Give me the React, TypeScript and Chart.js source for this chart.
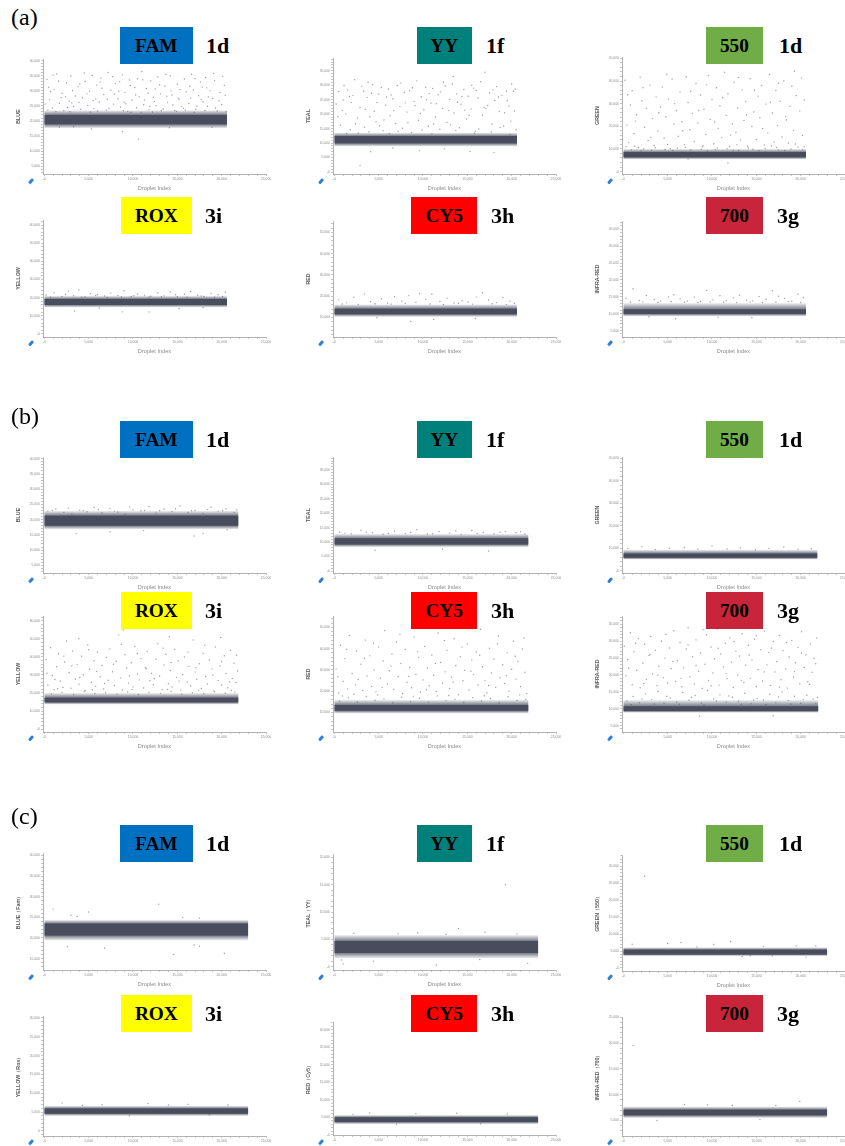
import React, { useEffect, useRef } from "react";
import { Chart, registerables } from "chart.js";

Chart.register(...registerables);

// ================= TEXT =================
const sectionLabels = ["(a)", "(b)", "(c)"];
const dyeNames = ["FAM", "YY", "550", "ROX", "CY5", "700"];
const sampleCodes = ["1d", "1f", "1d", "3i", "3h", "3g"];
const yTitlesAB = ["BLUE", "TEAL", "GREEN", "YELLOW", "RED", "INFRA-RED"];
const yTitlesC = ["BLUE（Fam）", "TEAL（YY）", "GREEN（550）", "YELLOW（Rox）", "RED（Cy5）", "INFRA-RED（700）"];
const xTitle = "Droplet Index";

// ================= AXES =================
const xMin = -150;
const xMax = 25000;
const xMajor = 5000;
const xMinor = 1000;

const yMinA = [2450, -690, -1070, -1660, 870, 3100];
const yMaxA = [40550, 39400, 50600, 62760, 55300, 37470];
const yMinB = [2450, -690, -1070, -1660, 870, 3100];
const yMaxB = [40600, 39400, 50600, 62760, 55300, 37470];
const yMinC = [12250, -620, -885, -1330, -100, 2010];
const yMaxC = [40580, 20620, 33250, 30530, 32200, 25030];
const yMajorA = [5000, 5000, 10000, 10000, 10000, 5000];
const yMajorB = [5000, 5000, 10000, 10000, 10000, 5000];
const yMajorC = [5000, 5000, 5000, 5000, 5000, 5000];

// ================= DATA (thousands) =================
const endA = [20.6, 20.6, 20.6, 20.6, 20.6, 20.6];
const endB = [21.9, 21.9, 21.9, 21.9, 21.9, 22.0];
const endC = [23.0, 23.0, 23.0, 23.0, 23.0, 23.0];

// dense negative-droplet band [low, high] and its looser halo [low, high]
const coreA = [[18.9, 22.0], [9.9, 12.4], [6.3, 8.6], [16.0, 19.3], [11.5, 14.1], [9.9, 11.3]];
const haloA = [[17.6, 23.6], [8.8, 13.6], [5.4, 10.0], [14.6, 21.0], [10.3, 16.2], [9.2, 13.2]];
const coreB = [[18.0, 21.3], [9.2, 11.3], [5.7, 7.6], [14.8, 17.4], [10.8, 13.5], [9.3, 10.7]];
const haloB = [[16.8, 22.9], [8.2, 12.8], [4.9, 9.3], [13.6, 20.0], [9.6, 16.0], [8.8, 12.6]];
const coreC = [[20.6, 23.5], [2.5, 4.7], [4.0, 5.4], [4.6, 6.0], [3.6, 5.0], [6.0, 7.1]];
const haloC = [[19.4, 24.4], [1.5, 5.8], [3.5, 6.1], [4.0, 6.7], [3.0, 5.6], [5.5, 7.7]];

// individual droplets outside the band [index, amplitude]
const aFamPts = [
  [0.3,33.8],[0.6,27.1],[0.9,24.3],[1.1,30.5],[1.4,35.6],[1.7,25.9],[2.0,29.2],[2.2,23.4],[2.5,32.7],[2.8,26.6],
  [3.0,34.9],[3.3,24.8],[3.5,28.3],[3.8,31.4],[4.1,23.9],[4.3,27.7],[4.6,33.1],[4.9,25.2],[5.1,29.9],[5.4,35.1],
  [5.6,24.1],[5.9,31.9],[6.2,26.3],[6.4,34.2],[6.7,28.8],[7.0,23.6],[7.2,36.1],[7.5,30.2],[7.8,25.6],[8.0,32.4],
  [8.3,27.4],[8.6,24.6],[8.8,35.3],[9.1,29.5],[9.4,23.2],[9.6,33.6],[9.9,26.9],[10.2,31.1],[10.4,24.4],[10.7,28.1],
  [11.0,36.4],[11.2,25.4],[11.5,30.8],[11.8,23.7],[12.0,33.3],[12.3,27.9],[12.6,25.1],[12.8,34.6],[13.1,29.0],[13.4,24.0],
  [13.6,31.6],[13.9,26.1],[14.2,35.0],[14.4,28.6],[14.7,23.5],[15.0,32.2],[15.2,27.2],[15.5,24.7],[15.8,33.9],[16.0,29.7],
  [16.3,25.8],[16.6,35.5],[16.8,30.3],[17.1,23.8],[17.4,28.4],[17.6,32.9],[17.9,26.4],[18.2,34.4],[18.4,24.9],[18.7,30.0],
  [19.0,27.5],[19.2,33.4],[19.5,23.3],[19.8,29.4],[20.0,25.5],[20.3,31.8],
  [0.1,25.6],[0.5,31.2],[1.3,23.1],[1.9,27.8],[2.6,24.5],[3.2,30.1],[3.9,26.2],[4.5,35.9],[5.2,23.0],[5.8,27.3],
  [6.5,30.9],[7.3,24.2],[7.9,28.9],[8.5,33.0],[9.2,25.7],[9.8,22.9],[10.5,34.0],[11.3,27.0],[11.9,24.8],[12.5,30.6],
  [13.2,23.4],[13.8,28.2],[14.5,25.3],[15.3,30.4],[15.9,23.6],[16.5,27.6],[17.2,25.0],[17.8,31.3],[18.5,28.0],[19.3,24.3],[20.1,34.8],
  [0.7,29.8],[1.6,33.2],[2.4,28.0],[3.1,26.0],[4.0,32.3],[4.8,29.0],[5.5,26.8],[6.3,32.9],[7.1,27.2],[7.7,34.7],
  [8.4,29.9],[9.0,26.3],[9.7,31.8],[10.3,28.6],[11.1,33.7],[11.7,29.2],[12.4,26.5],[13.0,32.0],[13.7,35.4],[14.3,30.0],
  [15.1,27.6],[15.7,24.2],[16.4,31.5],[17.0,34.0],[17.7,27.1],[18.3,31.0],[19.1,35.8],[19.7,26.7],[20.4,28.5],[0.4,23.7],
  [2.9,23.1],[6.0,23.3],[8.9,23.5],[12.2,23.0],[14.9,23.2],[18.1,23.4],[20.5,23.1],[1.0,35.2],[10.9,22.8],[16.9,22.9],
  [10.6,14.0],[5.3,17.4],[8.8,16.5],[1.7,18.0],[14.1,17.8],[3.3,18.1],[18.9,17.9],
];
const aYyPts = [
  [0.2,23.5],[0.5,27.8],[0.7,16.2],[1.0,24.9],[1.3,20.1],[1.5,28.3],[1.8,14.6],[2.1,26.4],[2.3,31.9],[2.6,18.7],
  [2.9,22.3],[3.1,29.6],[3.4,15.5],[3.7,25.8],[3.9,13.9],[4.2,27.2],[4.5,21.0],[4.7,17.4],[5.0,26.9],[5.3,29.2],
  [5.5,14.3],[5.8,23.1],[6.1,28.7],[6.3,19.4],[6.6,25.3],[6.9,16.8],[7.1,29.9],[7.4,22.6],[7.7,15.1],[7.9,27.5],
  [8.2,20.7],[8.5,28.1],[8.7,13.6],[9.0,24.4],[9.3,31.5],[9.5,17.9],[9.8,26.0],[10.1,21.5],[10.3,29.3],[10.6,15.8],
  [10.9,23.8],[11.1,28.9],[11.4,19.0],[11.7,26.7],[11.9,14.8],[12.2,22.0],[12.5,29.7],[12.7,17.1],[13.0,25.1],[13.3,30.4],
  [13.5,20.4],[13.8,27.0],[14.1,15.3],[14.3,23.4],[14.6,28.5],[14.9,18.3],[15.1,26.2],[15.4,21.8],[15.7,29.0],[15.9,14.1],
  [16.2,25.6],[16.5,31.2],[16.7,19.7],[17.0,34.5],[17.3,23.0],[17.5,27.3],[17.8,16.5],[18.1,24.7],[18.3,29.5],[18.6,20.9],
  [18.9,26.5],[19.1,15.9],[19.4,28.0],[19.7,22.8],[19.9,17.6],[20.2,27.9],[20.4,28.6],
  [0.4,19.2],[1.1,29.9],[1.9,24.0],[2.7,13.4],[3.5,21.7],[4.3,30.2],[5.1,16.0],[5.9,25.9],[6.7,21.2],[7.5,30.8],
  [8.3,17.0],[9.1,22.9],[9.9,14.5],[10.7,27.1],[11.5,23.6],[12.3,31.0],[13.1,16.3],[13.9,24.1],[14.7,21.4],[15.5,30.0],
  [16.3,14.9],[17.1,21.9],[17.9,28.4],[18.7,15.4],[19.5,24.6],[20.3,21.1],
  [0.9,21.3],[1.7,26.1],[2.4,16.7],[3.3,27.9],[4.0,19.1],[4.8,24.0],[5.6,18.0],[6.4,26.6],[7.2,14.0],[8.0,23.9],
  [8.8,29.1],[9.7,20.2],[10.4,25.0],[11.2,16.6],[12.0,27.7],[12.9,21.2],[13.7,14.4],[14.4,26.0],[15.2,19.6],[16.0,28.2],
  [16.9,22.4],[17.7,13.8],[18.5,25.9],[19.2,20.5],[20.0,30.4],[20.5,14.6],[1.4,13.2],[6.2,13.3],[11.0,13.1],[15.8,13.4],
  [19.8,13.0],[3.8,31.0],[13.4,33.0],
  [2.9,2.3],[4.1,7.0],[15.3,7.1],[18.0,6.7],[9.6,7.4],[12.4,8.0],[6.6,8.3],
];
const a550Pts = [
  [0.2,40.3],[0.4,20.5],[0.6,12.9],[0.8,29.4],[1.0,35.7],[1.2,16.8],[1.5,25.1],[1.7,10.6],[1.9,41.7],[2.1,31.3],
  [2.4,19.6],[2.6,27.9],[2.8,13.7],[3.0,38.2],[3.3,23.4],[3.5,11.5],[3.7,33.0],[3.9,17.9],[4.2,28.5],[4.4,37.4],
  [4.6,14.8],[4.8,24.2],[5.1,32.0],[5.3,10.2],[5.5,40.9],[5.7,20.9],[6.0,27.0],[6.2,15.6],[6.4,35.1],[6.6,22.0],
  [6.9,11.9],[7.1,41.9],[7.3,30.5],[7.5,18.5],[7.8,25.6],[8.0,13.2],[8.2,38.9],[8.4,21.5],[8.7,33.8],[8.9,10.9],
  [9.1,27.5],[9.3,16.4],[9.6,42.5],[9.8,23.0],[10.0,31.8],[10.2,12.3],[10.5,37.0],[10.7,19.1],[10.9,29.1],[11.1,15.0],
  [11.4,43.9],[11.6,24.8],[11.8,34.4],[12.0,11.1],[12.3,21.1],[12.5,39.5],[12.7,17.3],[12.9,28.2],[13.2,13.9],[13.4,36.1],
  [13.6,22.6],[13.8,30.9],[14.1,10.4],[14.3,41.0],[14.5,19.9],[14.7,26.3],[15.0,14.2],[15.2,33.3],[15.4,23.8],[15.6,38.0],
  [15.9,11.7],[16.1,29.8],[16.3,17.0],[16.5,42.9],[16.8,25.9],[17.0,13.0],[17.2,35.8],[17.4,20.3],[17.7,31.1],[17.9,15.3],
  [18.1,40.0],[18.3,24.4],[18.6,12.6],[18.8,28.8],[19.0,37.7],[19.2,18.2],[19.5,33.6],[19.7,10.8],[19.9,26.7],[20.1,41.4],[20.4,31.6],
  [0.9,9.6],[2.3,10.0],[3.2,9.4],[4.7,9.8],[6.1,10.3],[7.6,9.5],[8.8,9.9],[10.4,9.7],[11.7,10.1],[13.0,9.3],
  [14.6,9.9],[16.0,10.2],[17.5,9.6],[18.9,10.0],[20.2,9.7],
  [1.3,11.2],[5.0,12.0],[9.0,11.4],[12.8,11.8],[16.7,11.3],[19.4,12.2],
  [0.5,33.9],[1.4,22.3],[2.2,37.0],[3.1,15.2],[4.0,26.0],[4.9,43.0],[5.8,30.0],[6.7,18.0],[7.6,35.5],[8.5,27.0],
  [9.4,38.3],[10.3,21.9],[11.2,32.6],[12.1,16.1],[13.0,41.6],[13.9,25.1],[14.8,35.9],[15.7,19.0],[16.6,30.6],[17.5,39.0],
  [18.4,22.8],[19.3,44.3],[20.2,15.9],[0.3,11.0],[3.6,10.5],[7.0,10.7],[10.6,10.4],[14.0,11.2],[17.3,10.6],[20.4,11.0],
  [2.0,9.2],[5.6,9.3],[9.5,9.1],[12.4,9.4],[15.3,9.2],[18.2,9.3],
  [11.8,3.8],[7.3,5.6],
];
const aRoxPts = [
  [0.2,21.5],[1.1,22.8],[2.0,20.7],[2.7,23.6],[3.3,21.1],[3.9,24.2],[4.6,20.4],[5.2,22.2],[6.0,21.7],[6.8,20.9],
  [7.5,22.5],[8.3,21.2],[9.0,23.8],[9.8,20.6],[10.5,22.0],[11.3,21.4],[12.0,20.8],[12.8,22.7],[13.5,21.0],[14.2,23.1],
  [15.0,20.5],[15.8,21.9],[16.5,23.4],[17.3,21.3],[18.0,20.6],[18.8,22.4],[19.6,21.6],[20.4,23.0],
  [0.7,20.2],[2.4,21.9],[4.2,20.3],[5.8,21.2],[7.1,20.1],[8.7,20.4],[10.1,21.1],[11.8,20.3],[13.2,20.5],[14.8,21.6],
  [16.1,20.2],[17.7,20.9],[19.2,20.3],[20.1,20.7],
  [3.4,12.6],[8.8,12.2],[11.8,12.1],[6.2,14.3],[15.2,14.0],[17.9,14.6],
];
const aCy5Pts = [
  [0.5,18.3],[1.4,16.9],[2.2,19.5],[3.4,21.0],[4.1,17.4],[5.3,18.8],[6.0,16.7],[6.8,19.9],[7.6,17.8],[8.4,20.3],
  [9.2,17.1],[9.6,21.2],[10.3,18.6],[11.0,20.9],[11.9,17.5],[12.7,19.1],[13.5,16.8],[14.4,18.0],[15.1,17.3],[16.0,19.6],
  [16.7,21.6],[17.4,18.2],[18.3,17.0],[19.0,19.3],[19.8,17.7],[20.3,16.6],
  [0.9,16.4],[2.7,16.2],[4.6,16.5],[6.4,16.3],[8.0,16.6],[10.8,16.4],[12.3,16.1],[14.0,16.7],[15.6,16.3],[17.8,16.5],[19.4,16.2],
  [8.6,8.2],[11.2,9.1],[4.8,9.9],[15.9,9.6],
];
const a700Pts = [
  [0.3,14.6],[1.1,17.4],[1.8,13.9],[2.6,15.4],[3.5,14.2],[4.2,13.8],[5.1,15.0],[5.7,15.6],[6.4,14.4],[7.2,13.7],
  [8.0,14.9],[8.7,13.6],[9.4,16.9],[10.1,14.1],[10.9,15.3],[11.6,13.9],[12.4,14.7],[13.1,15.5],[13.9,14.0],[14.6,13.8],
  [15.3,15.1],[16.1,14.3],[16.8,16.8],[17.5,15.2],[18.2,14.5],[19.0,13.7],[19.7,15.8],[20.3,14.8],
  [0.8,13.4],[2.2,13.5],[3.9,13.3],[5.4,13.6],[6.9,13.4],[8.4,13.3],[9.8,13.5],[11.3,13.4],[12.8,13.3],[14.3,13.5],
  [15.7,13.3],[17.2,13.4],[18.6,13.6],[20.0,13.3],
  [5.9,8.5],[10.7,9.0],[14.5,8.8],[2.9,9.1],
];

const bFamPts = [
  [0.4,22.8],[1.3,23.5],[2.2,22.4],[3.1,21.9],[4.0,23.1],[4.8,22.6],[5.6,24.0],[6.5,22.2],[7.4,23.7],[8.3,22.5],
  [9.1,21.8],[10.0,23.2],[10.9,22.9],[11.8,24.3],[12.6,22.1],[13.5,23.4],[14.4,22.7],[15.3,24.5],[16.2,22.3],[17.0,23.0],
  [17.9,22.0],[18.8,24.1],[19.6,22.8],[20.5,23.6],[21.4,22.4],
  [0.9,23.0],[2.7,23.8],[4.4,22.9],[6.1,23.3],[7.9,22.8],[9.6,24.2],[11.3,23.0],[13.0,22.9],[14.8,23.6],[16.6,22.9],
  [18.4,23.3],[20.1,22.9],[21.7,23.2],
  [3.6,15.4],[7.4,16.0],[16.9,14.6],[17.9,15.5],[11.2,16.4],[20.6,16.7],
];
const bYyPts = [
  [0.6,13.4],[1.9,12.9],[3.0,14.1],[4.3,13.2],[5.5,12.7],[6.8,13.8],[8.0,13.0],[9.3,14.3],[10.5,12.8],[11.8,13.6],
  [13.0,13.1],[14.3,12.6],[15.5,14.0],[16.8,13.3],[18.0,12.9],[19.3,13.7],[20.5,13.2],[21.5,12.8],
  [1.2,13.1],[3.6,13.5],[6.1,13.0],[8.6,13.3],[11.1,12.9],[13.7,13.8],[16.1,13.0],[18.7,13.4],[21.0,13.6],
  [4.6,7.2],[12.2,7.5],[17.4,6.9],
];
const b550Pts = [
  [0.5,9.8],[2.1,10.7],[3.6,9.4],[5.2,9.9],[6.9,10.3],[8.4,9.5],[10.0,11.0],[11.7,9.6],[13.2,10.1],[14.9,9.3],
  [16.4,9.9],[18.1,10.5],[19.7,9.5],[21.2,9.7],
];
const bRoxPts = [
  [0.2,38.5],[0.4,24.3],[0.7,45.1],[0.9,29.7],[1.1,21.9],[1.4,34.6],[1.6,41.8],[1.8,26.5],[2.1,23.1],[2.3,37.2],
  [2.5,48.9],[2.8,31.4],[3.0,22.6],[3.2,43.3],[3.5,27.8],[3.7,35.9],[3.9,24.9],[4.2,40.4],[4.4,30.1],[4.6,21.4],
  [4.9,46.7],[5.1,33.2],[5.3,26.0],[5.6,38.0],[5.8,23.7],[6.0,42.6],[6.3,29.0],[6.5,35.3],[6.7,22.2],[7.0,39.8],
  [7.2,27.1],[7.4,44.5],[7.7,31.8],[7.9,24.1],[8.1,37.6],[8.4,52.3],[8.6,28.4],[8.8,21.7],[9.1,41.2],[9.3,33.9],
  [9.5,25.5],[9.8,36.8],[10.0,23.4],[10.2,45.8],[10.5,30.6],[10.7,27.3],[10.9,39.1],[11.2,22.8],[11.4,34.0],[11.6,43.0],
  [11.9,26.8],[12.1,31.0],[12.3,24.6],[12.6,38.7],[12.8,47.4],[13.0,29.4],[13.3,22.0],[13.5,35.6],[13.7,41.5],[14.0,25.2],
  [14.2,32.5],[14.4,23.3],[14.7,44.2],[14.9,28.7],[15.1,37.9],[15.4,21.6],[15.6,30.3],[15.8,40.0],[16.1,26.2],[16.3,34.8],
  [16.5,23.9],[16.8,49.5],[17.0,31.6],[17.2,27.6],[17.5,36.3],[17.7,22.5],[17.9,42.1],[18.2,29.2],[18.4,25.0],[18.6,38.3],
  [18.9,33.4],[19.1,21.2],[19.3,45.6],[19.6,27.0],[19.8,35.0],[20.0,24.4],[20.3,40.7],[20.5,30.8],[20.7,22.9],[21.0,43.7],
  [21.2,28.1],[21.4,36.5],[21.6,25.8],[21.8,32.2],
  [0.3,31.0],[1.2,27.5],[2.2,40.5],[3.1,35.0],[4.0,28.6],[5.0,44.0],[5.9,32.0],[6.8,25.3],[7.8,36.0],[8.7,47.0],
  [9.6,29.6],[10.5,41.9],[11.5,33.5],[12.4,27.9],[13.4,44.9],[14.3,36.9],[15.2,26.6],[16.2,42.7],[17.1,34.1],[18.1,46.5],
  [19.0,30.0],[20.0,37.4],[20.9,26.3],[21.7,41.0],[1.5,22.4],[5.4,21.8],[9.9,22.0],[13.9,21.9],[17.4,21.6],[21.1,21.5],
  [0.8,19.5],[2.0,20.3],[3.3,19.1],[4.5,20.8],[5.7,19.7],[6.9,20.1],[8.2,19.4],[9.4,20.6],[10.6,19.2],[11.8,20.4],
  [13.1,19.8],[14.3,20.9],[15.5,19.3],[16.7,20.2],[18.0,19.6],[19.2,20.7],[20.4,19.9],[21.5,20.5],
  [8.9,55.0],[14.1,51.2],[3.9,50.1],[19.9,50.8],
];
const bCy5Pts = [
  [0.2,30.5],[0.5,19.2],[0.7,41.6],[1.0,24.7],[1.2,35.3],[1.5,21.1],[1.7,46.2],[2.0,28.3],[2.2,18.6],[2.5,38.9],
  [2.7,25.6],[3.0,32.7],[3.2,20.4],[3.5,44.0],[3.7,27.2],[4.0,36.6],[4.2,22.3],[4.5,30.0],[4.7,19.7],[5.0,40.8],
  [5.2,26.1],[5.5,34.2],[5.7,48.5],[6.0,23.4],[6.2,29.6],[6.5,37.5],[6.7,20.8],[7.0,43.1],[7.2,26.9],[7.5,33.0],
  [7.7,18.9],[8.0,39.6],[8.2,24.2],[8.5,31.1],[8.7,21.6],[9.0,45.4],[9.2,28.0],[9.5,35.9],[9.7,19.5],[10.0,25.3],
  [10.2,41.0],[10.5,30.9],[10.7,22.6],[11.0,37.0],[11.2,27.5],[11.5,19.9],[11.7,47.3],[12.0,33.5],[12.2,23.9],[12.5,29.1],
  [12.7,39.2],[13.0,21.3],[13.2,26.6],[13.5,44.6],[13.7,32.1],[14.0,18.4],[14.2,36.2],[14.5,24.9],[14.7,29.8],[15.0,42.2],
  [15.2,20.6],[15.5,34.7],[15.7,27.8],[16.0,38.4],[16.2,22.9],[16.5,49.1],[16.7,31.5],[17.0,25.1],[17.2,19.3],[17.5,40.2],
  [17.7,28.6],[18.0,35.1],[18.2,21.9],[18.5,45.9],[18.7,26.3],[19.0,32.4],[19.2,23.6],[19.5,38.0],[19.7,20.0],[20.0,30.3],
  [20.2,43.5],[20.5,25.7],[20.7,34.0],[21.0,22.1],[21.2,39.8],[21.5,28.9],[21.7,19.0],
  [0.4,26.8],[1.4,39.7],[2.4,23.0],[3.4,35.5],[4.4,42.6],[5.4,21.7],[6.4,31.8],[7.4,46.7],[8.4,27.0],[9.4,38.6],
  [10.4,20.7],[11.4,33.0],[12.4,43.8],[13.4,24.3],[14.4,40.7],[15.4,29.4],[16.4,36.9],[17.4,22.7],[18.4,42.3],[19.4,27.3],
  [20.4,36.4],[21.4,45.0],[0.9,17.8],[4.9,18.2],[8.9,17.6],[12.9,18.0],[16.9,17.9],[20.9,18.3],
  [0.6,15.3],[1.6,16.9],[2.6,14.8],[3.6,17.5],[4.6,15.8],[5.6,16.4],[6.6,14.6],[7.6,17.2],[8.6,15.1],[9.6,16.7],
  [10.6,14.9],[11.6,17.8],[12.6,15.6],[13.6,16.2],[14.6,14.7],[15.6,17.0],[16.6,15.4],[17.6,16.6],[18.6,14.5],[19.6,17.4],
  [20.6,15.7],[21.6,16.1],
];
const b700Pts = [
  [0.1,28.5],[0.3,19.8],[0.5,24.6],[0.8,32.5],[1.0,17.1],[1.2,26.9],[1.5,21.4],[1.7,30.8],[1.9,16.2],[2.2,23.5],
  [2.4,29.1],[2.6,18.7],[2.9,25.8],[3.1,31.4],[3.3,20.3],[3.6,27.3],[3.8,16.8],[4.0,22.6],[4.3,30.0],[4.5,19.2],
  [4.7,25.0],[5.0,17.6],[5.2,28.0],[5.4,21.9],[5.7,33.1],[5.9,18.1],[6.1,24.2],[6.4,29.6],[6.6,16.5],[6.8,22.1],
  [7.1,27.7],[7.3,34.0],[7.5,19.5],[7.8,25.4],[8.0,17.3],[8.2,30.4],[8.5,21.1],[8.7,26.5],[8.9,16.0],[9.2,23.2],
  [9.4,31.9],[9.6,18.4],[9.9,28.3],[10.1,20.6],[10.3,24.8],[10.6,33.6],[10.8,17.0],[11.0,26.2],[11.3,22.4],[11.5,29.4],
  [11.7,18.9],[12.0,31.0],[12.2,23.8],[12.4,16.3],[12.7,27.0],[12.9,20.0],[13.1,25.6],[13.4,32.2],[13.6,17.8],[13.8,22.9],
  [14.1,28.8],[14.3,19.0],[14.5,24.4],[14.8,30.6],[15.0,16.6],[15.2,21.6],[15.5,27.5],[15.7,18.2],[15.9,33.0],[16.2,23.0],
  [16.4,26.7],[16.6,16.9],[16.9,29.9],[17.1,20.9],[17.3,24.0],[17.6,31.7],[17.8,18.6],[18.0,27.2],[18.3,21.8],[18.5,16.1],
  [18.7,25.3],[19.0,30.2],[19.2,19.4],[19.4,23.6],[19.7,28.1],[19.9,17.4],[20.1,32.8],[20.4,22.2],[20.6,26.0],[20.8,18.0],
  [21.1,29.2],[21.3,20.8],[21.5,24.9],[21.8,30.9],
  [0.6,22.0],[1.4,29.4],[2.3,17.5],[3.0,26.1],[3.9,20.0],[4.8,32.0],[5.6,24.0],[6.5,19.0],[7.3,28.9],[8.2,22.8],
  [9.0,33.4],[9.9,16.8],[10.7,27.9],[11.6,20.4],[12.5,29.9],[13.3,18.4],[14.2,25.9],[15.0,31.6],[15.9,20.9],[16.7,28.0],
  [17.6,16.4],[18.4,29.6],[19.3,21.0],[20.1,26.5],[21.0,17.2],[21.7,23.3],
  [0.4,12.3],[1.1,13.6],[1.8,11.8],[2.5,14.4],[3.2,12.7],[3.9,15.1],[4.6,11.6],[5.3,13.2],[6.0,12.0],[6.7,14.8],
  [7.4,12.5],[8.1,13.9],[8.8,11.7],[9.5,15.4],[10.2,12.9],[10.9,14.1],[11.6,11.9],[12.3,13.4],[13.0,12.2],[13.7,14.6],
  [14.4,11.5],[15.1,13.0],[15.8,12.6],[16.5,14.3],[17.2,11.8],[17.9,15.0],[18.6,12.4],[19.3,13.7],[20.0,11.6],[20.7,14.0],
  [21.4,12.8],[21.9,13.3],
  [0.9,11.2],[2.1,12.9],[3.5,11.4],[4.9,13.7],[6.3,11.3],[7.7,13.4],[9.1,11.1],[10.5,12.2],[11.9,13.8],[13.3,11.3],
  [14.7,12.6],[16.1,11.2],[17.5,13.5],[18.9,11.4],[20.3,12.7],[21.7,11.5],
  [8.6,7.8],[16.9,7.9],
];

const cFamPts = [
  [1.0,27.0],[12.9,28.2],[5.0,26.3],[3.0,25.5],[3.7,25.2],[15.6,25.0],[17.5,24.8],
  [6.8,17.5],[14.6,16.0],[20.3,16.3],[17.5,18.0],[16.9,18.3],[2.6,17.9],
];
const cYyPts = [
  [19.3,15.0],[14.0,7.0],[9.4,6.2],[7.2,6.0],[1.0,0.5],[11.5,0.3],[0.8,1.2],[4.4,1.0],[21.8,0.6],[16.4,1.3],
  [2.2,6.1],[20.6,6.0],[12.6,5.9],[17.0,6.3],
];
const c550Pts = [
  [2.4,27.0],[6.5,7.5],[12.1,7.8],[5.0,7.2],[1.0,7.0],[19.5,6.5],[10.2,6.9],[15.8,6.3],[21.7,6.5],[8.3,6.2],
  [13.4,3.4],[16.8,3.5],[20.6,3.2],[14.3,3.6],
];
const cRoxPts = [
  [2.0,7.4],[6.5,7.0],[11.7,7.3],[16.2,7.1],[20.7,6.9],[9.6,4.1],[4.3,6.8],[14.0,6.9],[18.6,4.3],
];
const cCy5Pts = [
  [4.0,6.2],[13.8,6.1],[19.5,5.9],[2.1,5.8],[9.2,6.0],[7.0,3.0],[16.5,3.1],
];
const c700Pts = [
  [1.1,19.5],[19.9,8.7],[6.9,8.1],[12.3,7.9],[3.8,5.0],[15.4,5.2],[9.5,8.0],[17.2,7.9],
];

const ptsA = [aFamPts, aYyPts, a550Pts, aRoxPts, aCy5Pts, a700Pts];
const ptsB = [bFamPts, bYyPts, b550Pts, bRoxPts, bCy5Pts, b700Pts];
const ptsC = [cFamPts, cYyPts, c550Pts, cRoxPts, cCy5Pts, c700Pts];

// ================= LAYOUT / STYLE =================
const COL_L = [43, 332.5, 621.5];
const ROW_T = [
  [59.3, 58, 57.3], [220, 221, 221],
  [457.3, 457, 457], [616, 616, 616],
  [853.3, 854.3, 855], [1015.7, 1022.3, 1016.7],
];
const ROW_B = [174, 336.7, 573, 731.7, 970.7, 1135.5];
const HEADER_T = [27, 197, 421, 592, 825, 995];
const HEADER_H = 37;
const SECTION_T = [5, 404, 804];
const BOX_X = [[120, 192.7], [416.7, 471.7], [706, 762.7], [121, 191.7], [411, 477.3], [706, 762.7]];
const CODE_X = [206, 486, 779, 205, 491, 777];
const BOX_COLORS = ["#0070C0", "#00807B", "#70AD47", "#FFFF00", "#FF0000", "#C8253A"];

const YW = 40, PT = 4, XH = 22, PR = 10, PW = 223;
const DOT_RGB = "72,76,92";
const TICK_FONT = { family: "'Liberation Sans', Arial, sans-serif", size: 3.4 };
const fmt = (v: number) => Math.round(v).toLocaleString("en-US");

function makeTicks(min: number, max: number, step: number) {
  const t: { value: number }[] = [];
  for (let v = Math.ceil(min / step) * step; v <= max + 0.01; v += step) t.push({ value: v });
  return t;
}

type PanelProps = {
  L: number; T: number; B: number;
  yMin: number; yMax: number; yMajor: number; yTitle: string;
  core: number[]; halo: number[]; end: number; pts: number[][];
  hideXZero?: boolean;
};

function Panel(p: PanelProps) {
  const ref = useRef<HTMLCanvasElement>(null);
  const width = YW + PW + PR;
  const height = Math.round(p.B - p.T) + PT + XH;
  useEffect(() => {
    if (!ref.current) return;
    const band = (lohi: number[]) => [
      { x: 0, y: lohi[1] * 1000 },
      { x: p.end * 1000, y: lohi[1] * 1000 },
    ];
    const haloFill = (ctx: any) => {
      const chart = ctx.chart;
      const ys = chart.scales && chart.scales.y;
      if (!chart.chartArea || !ys) return `rgba(${DOT_RGB},0.3)`;
      const top = ys.getPixelForValue(p.halo[1] * 1000);
      const bot = ys.getPixelForValue(p.halo[0] * 1000);
      const span = p.halo[1] - p.halo[0];
      const f1 = (p.halo[1] - p.core[1]) / span;
      const f2 = (p.halo[1] - p.core[0]) / span;
      const g = chart.ctx.createLinearGradient(0, top, 0, bot);
      g.addColorStop(0, `rgba(${DOT_RGB},0.06)`);
      g.addColorStop(f1, `rgba(${DOT_RGB},0.75)`);
      g.addColorStop(f2, `rgba(${DOT_RGB},0.75)`);
      g.addColorStop(1, `rgba(${DOT_RGB},0.06)`);
      return g;
    };
    const chart = new Chart(ref.current, {
      type: "scatter",
      data: {
        datasets: [
          {
            data: p.pts.map((q) => ({ x: q[0] * 1000, y: q[1] * 1000 })),
            pointRadius: 0.7,
            pointBorderWidth: 0,
            backgroundColor: `rgba(${DOT_RGB},0.55)`,
            borderColor: "rgba(0,0,0,0)",
          } as any,
          {
            type: "line",
            data: band(p.core),
            showLine: true,
            fill: { value: p.core[0] * 1000 },
            backgroundColor: `rgb(${DOT_RGB})`,
            borderColor: "rgba(0,0,0,0)",
            borderWidth: 0,
            pointRadius: 0,
          } as any,
          {
            type: "line",
            data: band(p.halo),
            showLine: true,
            fill: { value: p.halo[0] * 1000 },
            backgroundColor: haloFill,
            borderColor: "rgba(0,0,0,0)",
            borderWidth: 0,
            pointRadius: 0,
          } as any,
        ],
      },
      options: {
        responsive: false,
        animation: false,
        events: [],
        layout: { padding: { top: PT, right: PR, left: 0, bottom: 0 } },
        plugins: { legend: { display: false }, tooltip: { enabled: false } },
        scales: {
          x: {
            type: "linear",
            min: xMin,
            max: xMax,
            afterBuildTicks: (s: any) => { s.ticks = makeTicks(xMin, xMax, xMinor); },
            afterFit: (s: any) => { s.height = XH; },
            ticks: {
              autoSkip: false, maxRotation: 0, minRotation: 0, padding: 1,
              font: TICK_FONT, color: "#8c8c8c",
              callback: (v: any) => (v % xMajor === 0 && !(p.hideXZero && v === 0) ? fmt(v) : ""),
            },
            grid: { drawOnChartArea: false, drawTicks: true, tickLength: 2, color: "#a0a0a0", lineWidth: 0.6 },
            border: { display: true, color: "#a0a0a0", width: 0.8 },
            title: {
              display: true, text: xTitle, color: "#8a8a8a",
              font: { family: "'Liberation Sans', Arial, sans-serif", size: 5.6 },
              padding: { top: 0, bottom: 4.6 },
            },
          },
          y: {
            type: "linear",
            min: p.yMin,
            max: p.yMax,
            afterBuildTicks: (s: any) => { s.ticks = makeTicks(p.yMin, p.yMax, p.yMajor / 5); },
            afterFit: (s: any) => { s.width = YW; },
            ticks: {
              autoSkip: false, padding: 1,
              font: TICK_FONT, color: "#8c8c8c",
              callback: (v: any) => (Math.abs(v % p.yMajor) < 0.5 ? fmt(v) : ""),
            },
            grid: { drawOnChartArea: false, drawTicks: true, tickLength: 2, color: "#a0a0a0", lineWidth: 0.6 },
            border: { display: true, color: "#a0a0a0", width: 0.8 },
            title: {
              display: true, text: p.yTitle, color: "#5a5a5a",
              font: { family: "'Liberation Sans', Arial, sans-serif", size: 5.3, weight: "bold" },
              padding: { top: 12.8, bottom: 0 },
            },
          },
        },
      } as any,
    });
    return () => chart.destroy();
  }, []);
  return (
    <>
      <canvas
        ref={ref}
        width={width}
        height={height}
        style={{ position: "absolute", left: p.L - YW, top: p.T - PT, width, height }}
      />
      <div
        style={{
          position: "absolute", left: p.L - 15, top: p.B + 5.5, width: 5.5, height: 2.6,
          background: "#2f7fd6", borderRadius: 1.3, transform: "rotate(-50deg)",
        }}
      />
    </>
  );
}

function Header({ k, top }: { k: number; top: number }) {
  const [x0, x1] = BOX_X[k];
  return (
    <>
      <div
        style={{
          position: "absolute", left: x0, top, width: x1 - x0, height: HEADER_H,
          background: BOX_COLORS[k], display: "flex", alignItems: "center", justifyContent: "center",
          fontFamily: "'Liberation Serif', 'Times New Roman', serif", fontWeight: "bold",
          fontSize: 19.3, color: "#000", lineHeight: 1,
        }}
      >
        {dyeNames[k]}
      </div>
      <div
        style={{
          position: "absolute", left: CODE_X[k], top, height: HEADER_H,
          display: "flex", alignItems: "center",
          fontFamily: "'Liberation Serif', 'Times New Roman', serif", fontWeight: "bold",
          fontSize: 22, color: "#000", lineHeight: 1, whiteSpace: "nowrap",
        }}
      >
        {sampleCodes[k]}
      </div>
    </>
  );
}

export default function App() {
  const sections = [
    { yMin: yMinA, yMax: yMaxA, yMajor: yMajorA, core: coreA, halo: haloA, end: endA, pts: ptsA, titles: yTitlesAB },
    { yMin: yMinB, yMax: yMaxB, yMajor: yMajorB, core: coreB, halo: haloB, end: endB, pts: ptsB, titles: yTitlesAB },
    { yMin: yMinC, yMax: yMaxC, yMajor: yMajorC, core: coreC, halo: haloC, end: endC, pts: ptsC, titles: yTitlesC },
  ];
  const items: React.ReactNode[] = [];
  sections.forEach((s, si) => {
    items.push(
      <div
        key={"sec" + si}
        style={{
          position: "absolute", left: 11, top: SECTION_T[si], fontSize: 24, lineHeight: 1,
          fontFamily: "'Liberation Serif', 'Times New Roman', serif", color: "#000",
        }}
      >
        {sectionLabels[si]}
      </div>
    );
    for (let k = 0; k < 6; k++) {
      const row = si * 2 + Math.floor(k / 3);
      const col = k % 3;
      items.push(<Header key={`h${si}-${k}`} k={k} top={HEADER_T[row]} />);
      items.push(
        <Panel
          key={`p${si}-${k}`}
          L={COL_L[col]}
          T={ROW_T[row][col]}
          B={ROW_B[row]}
          yMin={s.yMin[k]}
          yMax={s.yMax[k]}
          yMajor={s.yMajor[k]}
          yTitle={s.titles[k]}
          core={s.core[k]}
          halo={s.halo[k]}
          end={s.end[k]}
          pts={s.pts[k]}
          hideXZero={si === 1 && k === 5}
        />
      );
    }
  });
  return (
    <div
      style={{
        position: "absolute", left: 0, top: 0, width: 845, height: 1146,
        overflow: "hidden", background: "#fff",
      }}
    >
      {items}
    </div>
  );
}
